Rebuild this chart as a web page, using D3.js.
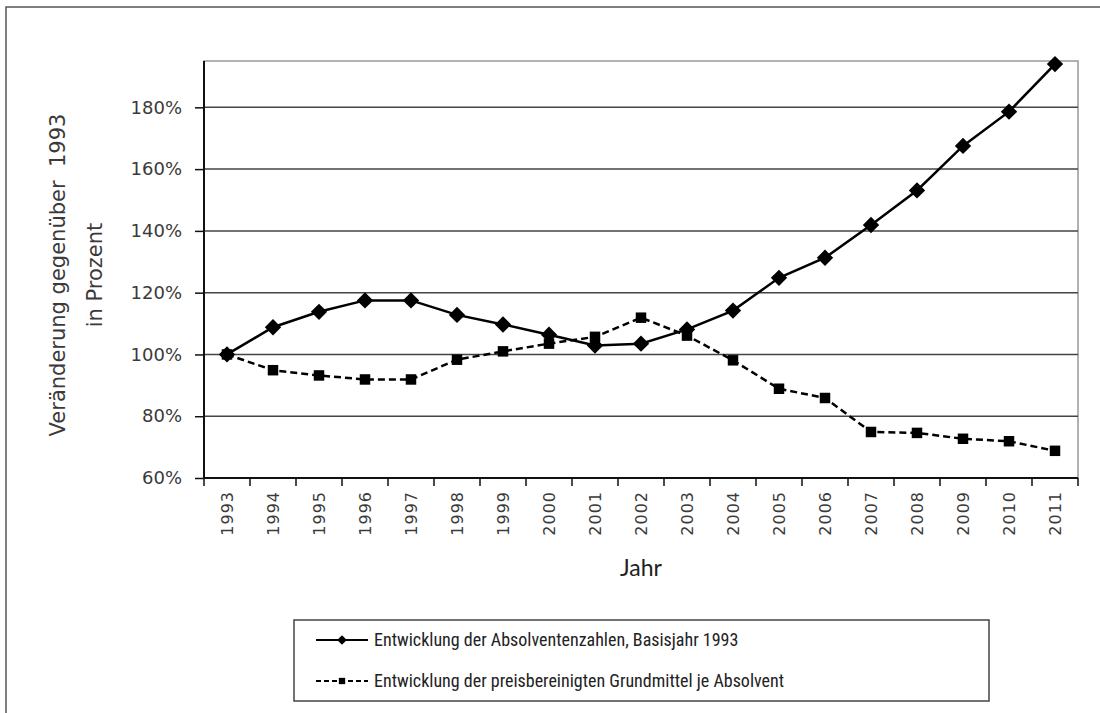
<!DOCTYPE html>
<html>
<head>
<meta charset="utf-8">
<script src="https://cdn.jsdelivr.net/npm/d3@7"></script>
<style>
  body { margin: 0; background: #fff; }
  svg { display: block; }
  .tick-label { font-family: 'DejaVu Sans', sans-serif; font-weight: normal; fill: #3a3a3a; }
  .legend-text { font-family: 'Liberation Sans Narrow', 'Roboto Condensed', Roboto, sans-serif; font-size: 18px; fill: #222; }
</style>
</head>
<body>
<svg id="chart" width="1100" height="713"></svg>
<script>
// years along the x axis
const years = ['1993', '1994', '1995', '1996', '1997', '1998', '1999', '2000', '2001', '2002',
    '2003', '2004', '2005', '2006', '2007', '2008', '2009', '2010', '2011'];
// graduates, index 1993 = 100
const absolventen = [100, 108.8, 113.8, 117.5, 117.5, 112.8, 109.7, 106.4, 102.9, 103.5,
    108.1, 114.2, 124.8, 131.3, 141.9, 153.1, 167.5, 178.6, 194.0];
// price-adjusted basic funds per graduate
const grundmittel = [100, 94.9, 93.2, 91.9, 91.9, 98.3, 101.0, 103.5, 105.7, 111.9,
    106.1, 98.1, 88.9, 85.9, 74.9, 74.6, 72.7, 71.9, 68.8];
const yTicks = [60, 80, 100, 120, 140, 160, 180];
const legendLabels = ['Entwicklung der Absolventenzahlen, Basisjahr 1993',
    'Entwicklung der preisbereinigten Grundmittel je Absolvent'];

const svg = d3.select('#chart');
const margin = { left: 204, top: 61, right: 1078, bottom: 478 };

// outer frame (right and bottom edges are cut off in the original)
svg.append('rect')
    .attr('x', 6).attr('y', 7).attr('width', 1200).attr('height', 800)
    .attr('fill', 'none').attr('stroke', '#555').attr('stroke-width', 1.5);

const x = d3.scaleBand().domain(years).range([margin.left, margin.right]);
const y = d3.scaleLinear().domain([60, 195]).range([margin.bottom, margin.top]);

// plot frame top/right
svg.append('rect')
    .attr('x', margin.left).attr('y', margin.top)
    .attr('width', margin.right - margin.left).attr('height', margin.bottom - margin.top)
    .attr('fill', 'none').attr('stroke', '#999').attr('stroke-width', 1.5);

// gridlines
svg.append('g')
    .selectAll('line')
    .data(yTicks.slice(1))
    .join('line')
    .attr('x1', margin.left).attr('x2', margin.right)
    .attr('y1', (d) => y(d)).attr('y2', (d) => y(d))
    .attr('stroke', '#444').attr('stroke-width', 1.5);

// y axis
const yAxis = svg.append('g')
    .attr('transform', 'translate(' + margin.left + ',0)')
    .call(d3.axisLeft(y).tickValues(yTicks).tickSize(9).tickSizeOuter(0).tickPadding(13).tickFormat((d) => d + '%'));
yAxis.select('.domain').attr('stroke', '#111').attr('stroke-width', 2).attr('d', 'M0,' + margin.top + 'V' + margin.bottom);
yAxis.selectAll('.tick line').attr('stroke', '#111').attr('stroke-width', 1.5);
yAxis.selectAll('.tick text').attr('class', 'tick-label').style('font-size', '18px');

// x axis: ticks sit on the band boundaries
const xg = svg.append('g');
xg.append('line')
    .attr('x1', margin.left).attr('x2', margin.right)
    .attr('y1', margin.bottom).attr('y2', margin.bottom)
    .attr('stroke', '#111').attr('stroke-width', 2);
xg.selectAll('line.tk')
    .data(years.concat(['end']))
    .join('line')
    .attr('class', 'tk')
    .attr('x1', (d) => (d == 'end' ? margin.right : x(d)))
    .attr('x2', (d) => (d == 'end' ? margin.right : x(d)))
    .attr('y1', margin.bottom).attr('y2', margin.bottom + 8)
    .attr('stroke', '#111').attr('stroke-width', 1.5);
xg.selectAll('text')
    .data(years)
    .join('text')
    .attr('class', 'tick-label')
    .attr('transform', (d) => 'translate(' + (x(d) + x.bandwidth() / 2 + 6) + ',' + (margin.bottom + 13) + ') rotate(-90)')
    .attr('text-anchor', 'end')
    .style('font-size', '16px')
    .style('letter-spacing', '1px')
    .text((d) => d);

// axis titles
svg.append('text')
    .attr('transform', 'translate(641,576)')
    .attr('text-anchor', 'middle')
    .style('font-family', 'Lato, sans-serif').style('font-size', '23px').style('fill', '#222')
    .text('Jahr');
const yt = svg.append('text')
    .attr('transform', 'translate(65,275) rotate(-90)')
    .attr('text-anchor', 'middle')
    .attr('class', 'tick-label')
    .style('font-size', '21px');
yt.append('tspan').attr('x', 0).attr('dy', 0).text('Veränderung gegenüber\u00a0\u00a01993');
yt.append('tspan').attr('x', 0).attr('dy', 37).text('in Prozent');

// series
const line = d3.line().x((d, i) => x(years[i]) + x.bandwidth() / 2).y((d) => y(d));
svg.append('path').datum(grundmittel)
    .attr('d', line).attr('fill', 'none').attr('stroke', '#000')
    .attr('stroke-width', 2.5).attr('stroke-dasharray', '7,4');
svg.append('path').datum(absolventen)
    .attr('d', line).attr('fill', 'none').attr('stroke', '#000').attr('stroke-width', 2.5);

const diamond = d3.symbol().type(d3.symbolDiamond2).size(170);
const square = d3.symbol().type(d3.symbolSquare).size(110);
svg.append('g').selectAll('path')
    .data(grundmittel)
    .join('path')
    .attr('transform', (d, i) => 'translate(' + (x(years[i]) + x.bandwidth() / 2) + ',' + y(d) + ')')
    .attr('d', square).attr('fill', '#000');
svg.append('g').selectAll('path')
    .data(absolventen)
    .join('path')
    .attr('transform', (d, i) => 'translate(' + (x(years[i]) + x.bandwidth() / 2) + ',' + y(d) + ')')
    .attr('d', diamond).attr('fill', '#000');

// legend
const lg = svg.append('g').attr('transform', 'translate(294,620)');
lg.append('rect').attr('width', 695).attr('height', 81)
    .attr('fill', '#fff').attr('stroke', '#444').attr('stroke-width', 1.5);
const items = lg.selectAll('g.item')
    .data(legendLabels)
    .join('g')
    .attr('class', 'item')
    .attr('transform', (d, i) => 'translate(0,' + (20 + i * 41) + ')');
items.append('line')
    .attr('x1', 22).attr('x2', 74).attr('y1', 0).attr('y2', 0)
    .attr('stroke', '#000').attr('stroke-width', 2)
    .attr('stroke-dasharray', (d, i) => (i == 0 ? null : '5,3'));
items.append('path')
    .attr('transform', 'translate(48,0)')
    .attr('d', (d, i) => (i == 0 ? d3.symbol().type(d3.symbolDiamond2).size(60)() : d3.symbol().type(d3.symbolSquare).size(40)()))
    .attr('fill', '#000');
items.append('text')
    .attr('class', 'legend-text')
    .attr('x', 80).attr('dy', '0.35em')
    .text((d) => d);
</script>
</body>
</html>
